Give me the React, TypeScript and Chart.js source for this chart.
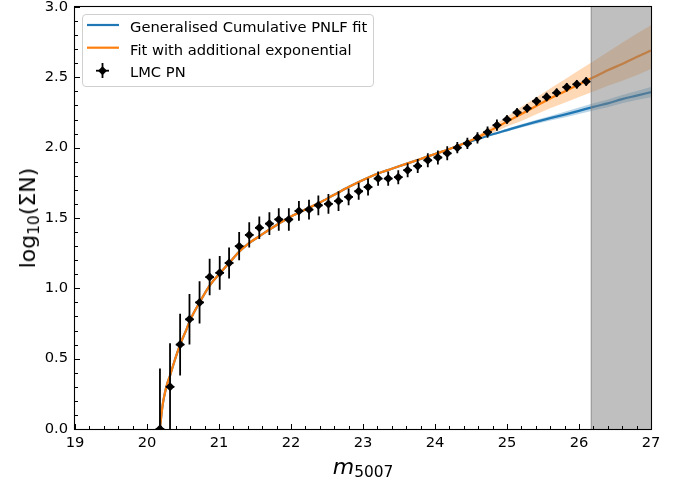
import React, { useEffect, useRef } from "react";
import { Chart, registerables } from "chart.js";

Chart.register(...registerables);

// ---------------- data ----------------
const magBins = [
  20.18, 20.32, 20.46, 20.59, 20.73, 20.87, 21.01, 21.14, 21.28, 21.42, 21.56,
  21.7, 21.83, 21.97, 22.11, 22.25, 22.38, 22.52, 22.66, 22.8, 22.94, 23.07,
  23.21, 23.35, 23.49, 23.62, 23.76, 23.9, 24.04, 24.17, 24.31, 24.45, 24.59,
  24.73, 24.86, 25.0, 25.14, 25.28, 25.41, 25.55, 25.69, 25.83, 25.97, 26.1,
];
const logN = [
  0.0, 0.3, 0.6, 0.78, 0.9, 1.08, 1.11, 1.18, 1.3, 1.38, 1.43, 1.46, 1.49, 1.49,
  1.55, 1.56, 1.59, 1.6, 1.62, 1.65, 1.69, 1.72, 1.78, 1.78, 1.79, 1.84, 1.87,
  1.91, 1.93, 1.96, 2.0, 2.03, 2.07, 2.11, 2.16, 2.2, 2.25, 2.28, 2.33, 2.36,
  2.39, 2.43, 2.45, 2.47,
];
const logNErr = [
  0.43, 0.31, 0.22, 0.18, 0.15, 0.13, 0.12, 0.11, 0.1, 0.09, 0.08, 0.08, 0.08,
  0.08, 0.07, 0.07, 0.07, 0.07, 0.07, 0.06, 0.06, 0.06, 0.05, 0.05, 0.05, 0.05,
  0.05, 0.05, 0.05, 0.05, 0.04, 0.04, 0.04, 0.04, 0.04, 0.03, 0.03, 0.03, 0.03,
  0.03, 0.03, 0.03, 0.03, 0.03,
];
const MAG_HALF_BIN = 0.06;

const fitMag = [
  20.18, 20.2, 20.22, 20.25, 20.28, 20.32, 20.38, 20.46, 20.55, 20.6, 20.73,
  20.87, 21.0, 21.14, 21.28, 21.4, 21.56, 21.8, 22.0, 22.2, 22.4, 22.6, 22.8,
  23.0, 23.2, 23.4, 23.6, 23.8, 24.0, 24.2, 24.4, 24.6, 24.8, 25.0, 25.2, 25.4,
  25.6, 25.8, 26.0, 26.2, 26.4, 26.6, 26.8, 27.0,
];
const fitExponential = [
  0.0, 0.1, 0.18, 0.26, 0.32, 0.38, 0.48, 0.6, 0.71, 0.775, 0.9, 1.02, 1.1,
  1.18, 1.26, 1.315, 1.37, 1.45, 1.51, 1.56, 1.61, 1.665, 1.72, 1.77, 1.815,
  1.85, 1.885, 1.92, 1.955, 1.99, 2.03, 2.075, 2.13, 2.185, 2.24, 2.295, 2.35,
  2.4, 2.45, 2.5, 2.55, 2.595, 2.645, 2.69,
];
const fitGeneralised = [
  0.0, 0.1, 0.18, 0.26, 0.32, 0.38, 0.48, 0.6, 0.71, 0.775, 0.9, 1.02, 1.1,
  1.18, 1.26, 1.315, 1.37, 1.45, 1.51, 1.56, 1.61, 1.665, 1.72, 1.77, 1.815,
  1.85, 1.885, 1.92, 1.955, 1.99, 2.03, 2.062, 2.095, 2.125, 2.155, 2.183,
  2.21, 2.235, 2.262, 2.29, 2.315, 2.345, 2.37, 2.395,
];

const bandMag = [
  24.4, 24.6, 24.8, 25.0, 25.2, 25.4, 25.6, 25.8, 26.0, 26.2, 26.4, 26.6, 26.8,
  27.0,
];
const expUpper = [
  2.035, 2.09, 2.155, 2.22, 2.29, 2.355, 2.42, 2.485, 2.55, 2.615, 2.68, 2.745,
  2.81, 2.87,
];
const expLower = [
  2.025, 2.06, 2.105, 2.15, 2.19, 2.235, 2.28, 2.32, 2.36, 2.4, 2.44, 2.475,
  2.515, 2.56,
];
const genUpper = [
  2.032, 2.068, 2.103, 2.135, 2.167, 2.197, 2.226, 2.255, 2.285, 2.315, 2.342,
  2.374, 2.402, 2.432,
];
const genLower = [
  2.028, 2.056, 2.087, 2.115, 2.143, 2.169, 2.194, 2.215, 2.239, 2.265, 2.288,
  2.316, 2.338, 2.358,
];

const completenessLimit = 26.16;

const X_MIN = 19;
const X_MAX = 27;
const Y_MIN = 0;
const Y_MAX = 3;
const xMajorTicks = [19, 20, 21, 22, 23, 24, 25, 26, 27];
const yMajorTicks = [0.0, 0.5, 1.0, 1.5, 2.0, 2.5, 3.0];
const X_MINOR_STEP = 0.2;
const Y_MINOR_STEP = 0.1;

const legendLabels = [
  "Generalised Cumulative PNLF fit",
  "Fit with additional exponential",
  "LMC PN",
];

// ---------------- style ----------------
const FONT = "'DejaVu Sans', 'Liberation Sans', sans-serif";
const BLUE = "#1f77b4";
const ORANGE = "#ff7f0e";
const TICK_FONT_SIZE = 14.7;

const isMajor = (v: number, majors: number[]) =>
  majors.some((t) => Math.abs(t - v) < 1e-6);

const decorPlugin = {
  id: "decor",
  afterDatasetsDraw(chart: any) {
    const { ctx, chartArea: a, scales } = chart;
    const xs = scales.x;
    const ys = scales.y;
    ctx.save();
    // shaded region
    const l = xs.getPixelForValue(completenessLimit);
    const r = xs.getPixelForValue(X_MAX);
    ctx.fillStyle = "rgba(128,128,128,0.5)";
    ctx.fillRect(l, a.top, r - l, a.bottom - a.top);
    ctx.strokeStyle = "rgba(128,128,128,0.5)";
    ctx.lineWidth = 1;
    ctx.beginPath();
    ctx.moveTo(Math.round(l) + 0.5, a.top);
    ctx.lineTo(Math.round(l) + 0.5, a.bottom);
    ctx.stroke();

    // inward ticks
    ctx.strokeStyle = "#000";
    ctx.lineWidth = 1;
    ctx.beginPath();
    for (const t of xs.ticks) {
      const px = Math.round(xs.getPixelForValue(t.value)) + 0.5;
      const len = isMajor(t.value, xMajorTicks) ? 5 : 3;
      ctx.moveTo(px, a.bottom);
      ctx.lineTo(px, a.bottom - len);
    }
    for (const t of ys.ticks) {
      const py = Math.round(ys.getPixelForValue(t.value)) + 0.5;
      const len = isMajor(t.value, yMajorTicks) ? 5 : 3;
      ctx.moveTo(a.left, py);
      ctx.lineTo(a.left + len, py);
    }
    ctx.stroke();

    // frame
    ctx.lineWidth = 1.1;
    ctx.strokeRect(
      Math.round(a.left) - 0.5,
      Math.round(a.top) - 0.5,
      Math.round(a.right - a.left) + 1,
      Math.round(a.bottom - a.top) + 1
    );
    ctx.restore();
  },
};

export default function App() {
  const canvasRef = useRef<HTMLCanvasElement | null>(null);

  useEffect(() => {
    const canvas = canvasRef.current;
    if (!canvas) return;

    const pts = magBins.map((m, i) => ({ x: m, y: logN[i] }));
    const vBars: any[] = [];
    const hBars: any[] = [];
    magBins.forEach((m, i) => {
      vBars.push({ x: m, y: logN[i] - logNErr[i] });
      vBars.push({ x: m, y: logN[i] + logNErr[i] });
      vBars.push({ x: m, y: null });
      hBars.push({ x: m - MAG_HALF_BIN, y: logN[i] });
      hBars.push({ x: m + MAG_HALF_BIN, y: logN[i] });
      hBars.push({ x: m, y: null });
    });
    const line = (xs: number[], ys: number[]) =>
      xs.map((x, i) => ({ x, y: ys[i] }));

    const chart = new Chart(canvas, {
      type: "line",
      data: {
        datasets: [
          {
            label: legendLabels[2],
            data: pts,
            showLine: false,
            pointStyle: "rectRot",
            pointRadius: 4.5,
            pointBackgroundColor: "#000",
            pointBorderWidth: 0,
          },
          {
            label: "v-err",
            data: vBars,
            borderColor: "#000",
            borderWidth: 1.8,
            pointRadius: 0,
            spanGaps: false,
          },
          {
            label: "h-err",
            data: hBars,
            borderColor: "#000",
            borderWidth: 1.8,
            pointRadius: 0,
            spanGaps: false,
          },
          {
            label: legendLabels[1],
            data: line(fitMag, fitExponential),
            borderColor: ORANGE,
            borderWidth: 2.2,
            pointRadius: 0,
            cubicInterpolationMode: "monotone",
          },
          {
            label: "exp-upper",
            data: line(bandMag, expUpper),
            borderWidth: 0,
            borderColor: "rgba(0,0,0,0)",
            pointRadius: 0,
            fill: false,
          },
          {
            label: "exp-lower",
            data: line(bandMag, expLower),
            borderWidth: 0,
            borderColor: "rgba(0,0,0,0)",
            pointRadius: 0,
            fill: "-1",
            backgroundColor: "rgba(255,127,14,0.3)",
          },
          {
            label: legendLabels[0],
            data: line(fitMag, fitGeneralised),
            borderColor: BLUE,
            borderWidth: 2.2,
            pointRadius: 0,
            cubicInterpolationMode: "monotone",
          },
          {
            label: "gen-upper",
            data: line(bandMag, genUpper),
            borderWidth: 0,
            borderColor: "rgba(0,0,0,0)",
            pointRadius: 0,
            fill: false,
          },
          {
            label: "gen-lower",
            data: line(bandMag, genLower),
            borderWidth: 0,
            borderColor: "rgba(0,0,0,0)",
            pointRadius: 0,
            fill: "-1",
            backgroundColor: "rgba(31,119,180,0.3)",
          },
        ],
      },
      options: {
        responsive: false,
        animation: false,
        events: [],
        devicePixelRatio: 1,
        layout: { padding: { top: 7, right: 33, left: 0, bottom: 0 } },
        plugins: {
          legend: { display: false },
          tooltip: { enabled: false },
          title: { display: false },
        },
        scales: {
          x: {
            type: "linear",
            min: X_MIN,
            max: X_MAX,
            grid: { display: false, drawTicks: false },
            border: { display: false },
            afterBuildTicks: (s: any) => {
              const vals: { value: number }[] = [];
              for (let v = X_MIN; v <= X_MAX + 1e-9; v += X_MINOR_STEP)
                vals.push({ value: Math.round(v * 10) / 10 });
              s.ticks = vals;
            },
            afterFit: (s: any) => {
              s.height = 53;
              s.paddingLeft = 0;
              s.paddingRight = 0;
            },
            ticks: {
              autoSkip: false,
              maxRotation: 0,
              minRotation: 0,
              padding: 5,
              color: "#000",
              font: { family: FONT, size: TICK_FONT_SIZE },
              callback: (v: any) =>
                isMajor(Number(v), xMajorTicks) ? String(Math.round(Number(v))) : "",
            },
          },
          y: {
            type: "linear",
            min: Y_MIN,
            max: Y_MAX,
            grid: { display: false, drawTicks: false },
            border: { display: false },
            afterBuildTicks: (s: any) => {
              const vals: { value: number }[] = [];
              for (let v = Y_MIN; v <= Y_MAX + 1e-9; v += Y_MINOR_STEP)
                vals.push({ value: Math.round(v * 10) / 10 });
              s.ticks = vals;
            },
            afterFit: (s: any) => {
              s.width = 75;
              s.paddingTop = 0;
              s.paddingBottom = 0;
            },
            ticks: {
              autoSkip: false,
              padding: 7,
              color: "#000",
              font: { family: FONT, size: TICK_FONT_SIZE },
              callback: (v: any) =>
                isMajor(Number(v), yMajorTicks) ? Number(v).toFixed(1) : "",
            },
          },
        },
      },
      plugins: [decorPlugin],
    } as any);

    return () => chart.destroy();
  }, []);

  const legendText: React.CSSProperties = {
    position: "absolute",
    left: 130,
    fontSize: 14.7,
    lineHeight: 1,
    whiteSpace: "nowrap",
  };

  return (
    <div
      style={{
        position: "absolute",
        left: 0,
        top: 0,
        width: 684,
        height: 482,
        background: "#fff",
        fontFamily: FONT,
        color: "#000",
        overflow: "hidden",
      }}
    >
      <canvas
        ref={canvasRef}
        width={684}
        height={482}
        style={{ position: "absolute", left: 0, top: 0, width: 684, height: 482 }}
      />

      {/* legend */}
      <div
        style={{
          position: "absolute",
          left: 82,
          top: 14,
          width: 292,
          height: 73,
          border: "1px solid #d0d0d0",
          borderRadius: 4,
          background: "rgba(255,255,255,0.8)",
          boxSizing: "border-box",
        }}
      />
      <svg
        style={{ position: "absolute", left: 86, top: 15 }}
        width={34}
        height={66}
      >
        <line x1={1} y1={10} x2={33} y2={10} stroke={BLUE} strokeWidth={2.2} />
        <line x1={1} y1={32.7} x2={33} y2={32.7} stroke={ORANGE} strokeWidth={2.2} />
        <line x1={16.5} y1={48} x2={16.5} y2={63} stroke="#000" strokeWidth={1.8} />
        <line x1={10} y1={55.7} x2={23} y2={55.7} stroke="#000" strokeWidth={1.8} />
        <polygon points="16.5,51.2 21,55.7 16.5,60.2 12,55.7" fill="#000" />
      </svg>
      <div style={{ ...legendText, top: 20.3 }}>{legendLabels[0]}</div>
      <div style={{ ...legendText, top: 42.6 }}>{legendLabels[1]}</div>
      <div style={{ ...legendText, top: 64.9 }}>{legendLabels[2]}</div>

      {/* axis titles */}
      <div
        style={{
          position: "absolute",
          left: 363,
          top: 456.4,
          transform: "translateX(-50%)",
          fontSize: 22,
          lineHeight: 1,
          whiteSpace: "nowrap",
        }}
      >
        <span style={{ fontStyle: "italic" }}>m</span>
        <span style={{ fontSize: "0.7em", position: "relative", top: 3 }}>5007</span>
      </div>
      <div
        style={{
          position: "absolute",
          left: 27.5,
          top: 218,
          transform: "translate(-50%, -50%) rotate(-90deg)",
          fontSize: 22,
          lineHeight: 1,
          whiteSpace: "nowrap",
        }}
      >
        log
        <span style={{ fontSize: "0.7em", position: "relative", top: 4 }}>10</span>
        (ΣN)
      </div>
    </div>
  );
}
